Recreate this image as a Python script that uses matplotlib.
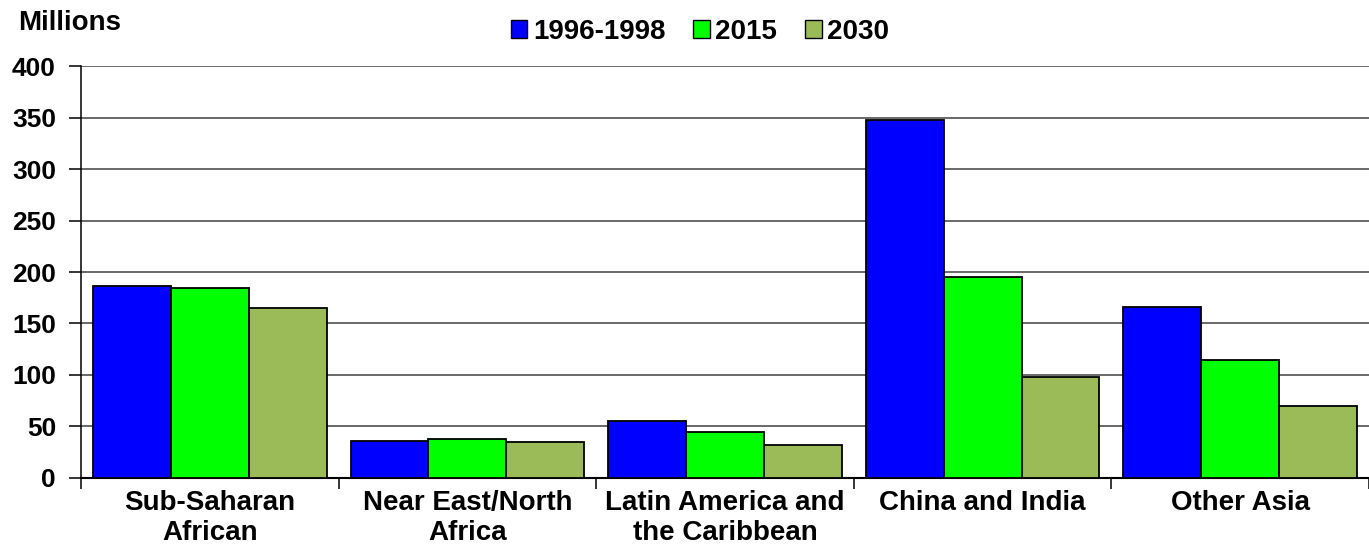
import matplotlib.pyplot as plt
import numpy as np
from matplotlib.patches import Patch

# Data
regions = ['Sub-Saharan\nAfrican', 'Near East/North\nAfrica', 'Latin America and\nthe Caribbean',
           'China and India', 'Other Asia']
series = ['1996-1998', '2015', '2030']
v_1996 = [186, 36, 55, 348, 166]
v_2015 = [184, 37.5, 44.7, 195, 114]
v_2030 = [164.7, 34.7, 32, 98, 70]
colors = ['#0000FF', '#00FF00', '#9BBB59']

plt.rcParams['font.family'] = ['Liberation Sans', 'DejaVu Sans']
plt.rcParams['font.weight'] = 'bold'
FS = 20

fig = plt.figure(figsize=(13.69, 5.46), dpi=100)
ax = fig.add_axes([81 / 1369, 1 - 477.7 / 546, 1 - 81 / 1369, (477.7 - 66.3) / 546])

x = np.arange(len(regions))
w = 0.3025
for i, (vals, c) in enumerate(zip([v_1996, v_2015, v_2030], colors)):
    ax.bar(x + (i - 1) * w, vals, width=w, color=c, edgecolor='black', linewidth=1.3, zorder=3)

ax.set_ylim(0, 400)
ax.set_xlim(-0.5, -0.5 + (1369 - 81) / 259)
ax.set_yticks(range(0, 401, 50))
ax.yaxis.grid(True, color='#404040', linewidth=1.1, zorder=0)
ax.tick_params(axis='y', length=9, width=1.1, labelsize=19, pad=9)

ax.set_xticks(x)
ax.set_xticklabels(regions, fontsize=FS, fontweight='bold', linespacing=1.2)
ax.tick_params(axis='x', which='major', length=0, pad=9)
ax.set_xticks(np.arange(-0.5, 5, 1), minor=True)
ax.tick_params(axis='x', which='minor', length=8, width=1.1)
for lbl in ax.get_yticklabels():
    lbl.set_fontweight('bold')

for s in ['top', 'right']:
    ax.spines[s].set_visible(False)
ax.spines['left'].set_linewidth(1.1)
ax.spines['bottom'].set_linewidth(1.5)

fig.text(18 / 1369, 1 - 23 / 546, 'Millions', fontsize=FS, fontweight='bold', va='center', ha='left')

handles = [Patch(facecolor=c, edgecolor='black', linewidth=1.0) for c in colors]
fig.legend(handles, series, loc='center', bbox_to_anchor=(700 / 1369, 1 - 32 / 546), ncol=3,
           frameon=False, prop={'size': FS, 'weight': 'bold'}, handlelength=0.6, handleheight=0.6,
           handletextpad=0.2, columnspacing=1.0)

fig.savefig('out.png', dpi=100)
